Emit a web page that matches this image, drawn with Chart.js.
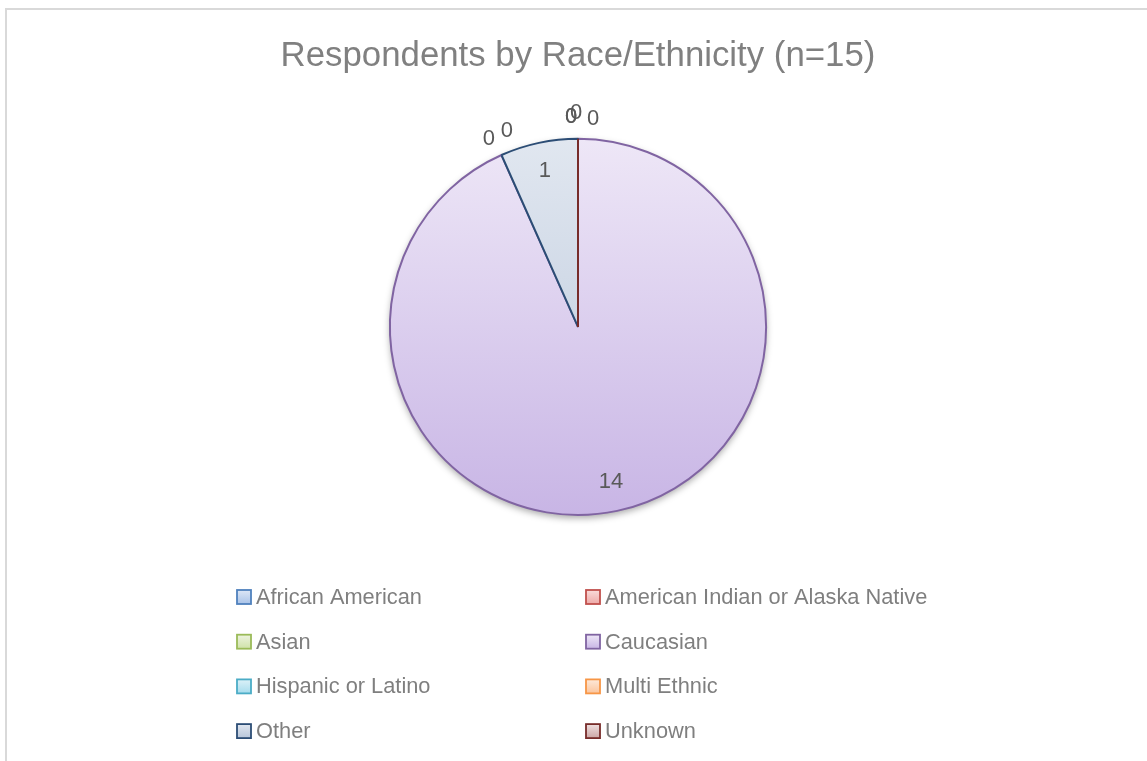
<!DOCTYPE html>
<html>
<head>
<meta charset="utf-8">
<title>Respondents by Race/Ethnicity</title>
<script src="https://cdn.jsdelivr.net/npm/chart.js@4.4.1/dist/chart.umd.min.js"></script>
<style>
  html, body { margin: 0; padding: 0; background: #fff; overflow: hidden; }
  #wrap { position: relative; width: 1147px; height: 761px; }
  #frame { position: absolute; left: 5px; top: 8px; width: 1200px; height: 800px;
           border-top: 2px solid #d9d9d9; border-left: 2px solid #d9d9d9; box-sizing: border-box; }
  #chart { position: absolute; left: 0; top: 0; }
</style>
</head>
<body>
<div id="wrap">
  <div id="frame"></div>
  <canvas id="chart" width="1147" height="761"></canvas>
</div>
<script>
// Dữ liệu biểu đồ
const categories = ['African American', 'American Indian or Alaska Native', 'Asian', 'Caucasian',
                    'Hispanic or Latino', 'Multi Ethnic', 'Other', 'Unknown'];
const respondents = [0, 0, 0, 14, 0, 0, 1, 0];
const chartTitle = 'Respondents by Race/Ethnicity (n=15)';

// Màu viền và gradient (sáng -> đậm)
const borderColors = ['#4f81bd', '#c0504d', '#9bbb59', '#8064a2', '#4bacc6', '#f79646', '#2c4d75', '#772c2a'];
const gradTop = ['#dde7f6', '#f9dbda', '#edf3e0', '#eee7f7', '#dcf1f8', '#fde9d9', '#e1e7f0', '#efe0e0'];
const gradBottom = ['#a9c3e8', '#eea9a7', '#cfe2a8', '#c8b5e5', '#a6dced', '#fbc49c', '#b8c6da', '#cba6a5'];

const FONT = '"Liberation Sans", Arial, sans-serif';

function makeGradient(ctx, top, bottom, i) {
  const g = ctx.createLinearGradient(0, top, 0, bottom);
  g.addColorStop(0, gradTop[i]);
  g.addColorStop(1, gradBottom[i]);
  return g;
}

// Bóng đổ dưới hình tròn
const shadowPlugin = {
  id: 'pieShadow',
  beforeDatasetsDraw(chart) {
    const arc = chart.getDatasetMeta(0).data[0];
    if (!arc) return;
    const { x, y, outerRadius } = arc.getProps(['x', 'y', 'outerRadius'], true);
    const ctx = chart.ctx;
    ctx.save();
    ctx.shadowColor = 'rgba(0,0,0,0.35)';
    ctx.shadowBlur = 7;
    ctx.shadowOffsetY = 3;
    ctx.fillStyle = '#fff';
    ctx.beginPath();
    ctx.arc(x, y, outerRadius, 0, Math.PI * 2);
    ctx.fill();
    ctx.restore();
  }
};

// Nhãn dữ liệu (giá trị 0 đặt bên ngoài, lệch nhẹ như Excel)
const zeroNudge = [[-7, -8], [-2, -12], [-7, -8], [0, 0], [-7, -3], [11, -11], [0, 0], [15, -6]];
const labelPlugin = {
  id: 'sliceLabels',
  afterDatasetsDraw(chart) {
    const ctx = chart.ctx;
    const arcs = chart.getDatasetMeta(0).data;
    const values = chart.data.datasets[0].data;
    const TAU = Math.PI * 2;
    // vẽ đường viền cho lát bằng 0 (Chart.js bỏ qua)
    arcs.forEach((arc, i) => {
      if (values[i] !== 0) return;
      const p = arc.getProps(['x', 'y', 'startAngle', 'outerRadius'], true);
      const near = (b) => {
        const d = ((p.startAngle - b) % TAU + TAU) % TAU;
        return d < 1e-6 || Math.abs(d - TAU) < 1e-6;
      };
      const covered = arcs.some((other, j) => {
        if (j <= i || values[j] === 0) return false;
        const o = other.getProps(['startAngle', 'endAngle'], true);
        return near(o.startAngle) || near(o.endAngle);
      });
      if (covered) return;
      ctx.save();
      ctx.strokeStyle = borderColors[i];
      ctx.lineWidth = 2;
      ctx.beginPath();
      ctx.moveTo(p.x, p.y);
      ctx.lineTo(p.x + Math.cos(p.startAngle) * p.outerRadius, p.y + Math.sin(p.startAngle) * p.outerRadius);
      ctx.stroke();
      ctx.restore();
    });
    ctx.save();
    ctx.font = '22px ' + FONT;
    ctx.fillStyle = '#595959';
    ctx.textAlign = 'center';
    ctx.textBaseline = 'middle';
    arcs.forEach((arc, i) => {
      const p = arc.getProps(['x', 'y', 'startAngle', 'endAngle', 'outerRadius'], true);
      const mid = (p.startAngle + p.endAngle) / 2;
      let lx, ly;
      if (values[i] > 0) {
        lx = p.x + Math.cos(mid) * p.outerRadius * 0.845;
        ly = p.y + Math.sin(mid) * p.outerRadius * 0.845;
      } else {
        const r = p.outerRadius + 14;
        lx = p.x + Math.cos(mid) * r + zeroNudge[i][0];
        ly = p.y + Math.sin(mid) * r + zeroNudge[i][1];
      }
      ctx.fillText(String(values[i]), lx, ly);
    });
    ctx.restore();
  }
};

// Chú thích 2 cột
const legendPlugin = {
  id: 'gridLegend',
  afterDraw(chart) {
    const ctx = chart.ctx;
    const colX = [237, 586];
    const top = 597, rowH = 44.7, box = 14;
    ctx.save();
    ctx.font = '21.8px ' + FONT;
    ctx.textBaseline = 'middle';
    chart.data.labels.forEach((label, i) => {
      const x = colX[i % 2];
      const y = top + Math.floor(i / 2) * rowH;
      ctx.fillStyle = makeGradient(ctx, y - box / 2, y + box / 2, i);
      ctx.fillRect(x, y - box / 2, box, box);
      ctx.strokeStyle = borderColors[i];
      ctx.lineWidth = 1.8;
      ctx.strokeRect(x, y - box / 2, box, box);
      ctx.fillStyle = '#7f7f7f';
      ctx.fillText(label, x + 19, y + 1);
    });
    ctx.restore();
  }
};

new Chart(document.getElementById('chart'), {
  type: 'pie',
  data: {
    labels: categories,
    datasets: [{
      data: respondents,
      backgroundColor: (c) => {
        const ca = c.chart.chartArea;
        if (!ca) return gradTop[c.dataIndex];
        return makeGradient(c.chart.ctx, ca.top, ca.bottom, c.dataIndex);
      },
      borderColor: borderColors,
      borderWidth: 2
    }]
  },
  options: {
    responsive: false,
    animation: false,
    layout: { padding: { top: 0, bottom: 245, left: 10, right: 1 } },
    plugins: {
      legend: { display: false },
      tooltip: { enabled: false },
      title: {
        display: true,
        text: chartTitle,
        color: '#808080',
        font: { family: FONT, size: 34.8, weight: 'normal' },
        padding: { top: 36, bottom: 60 }
      }
    }
  },
  plugins: [shadowPlugin, labelPlugin, legendPlugin]
});
</script>
</body>
</html>
